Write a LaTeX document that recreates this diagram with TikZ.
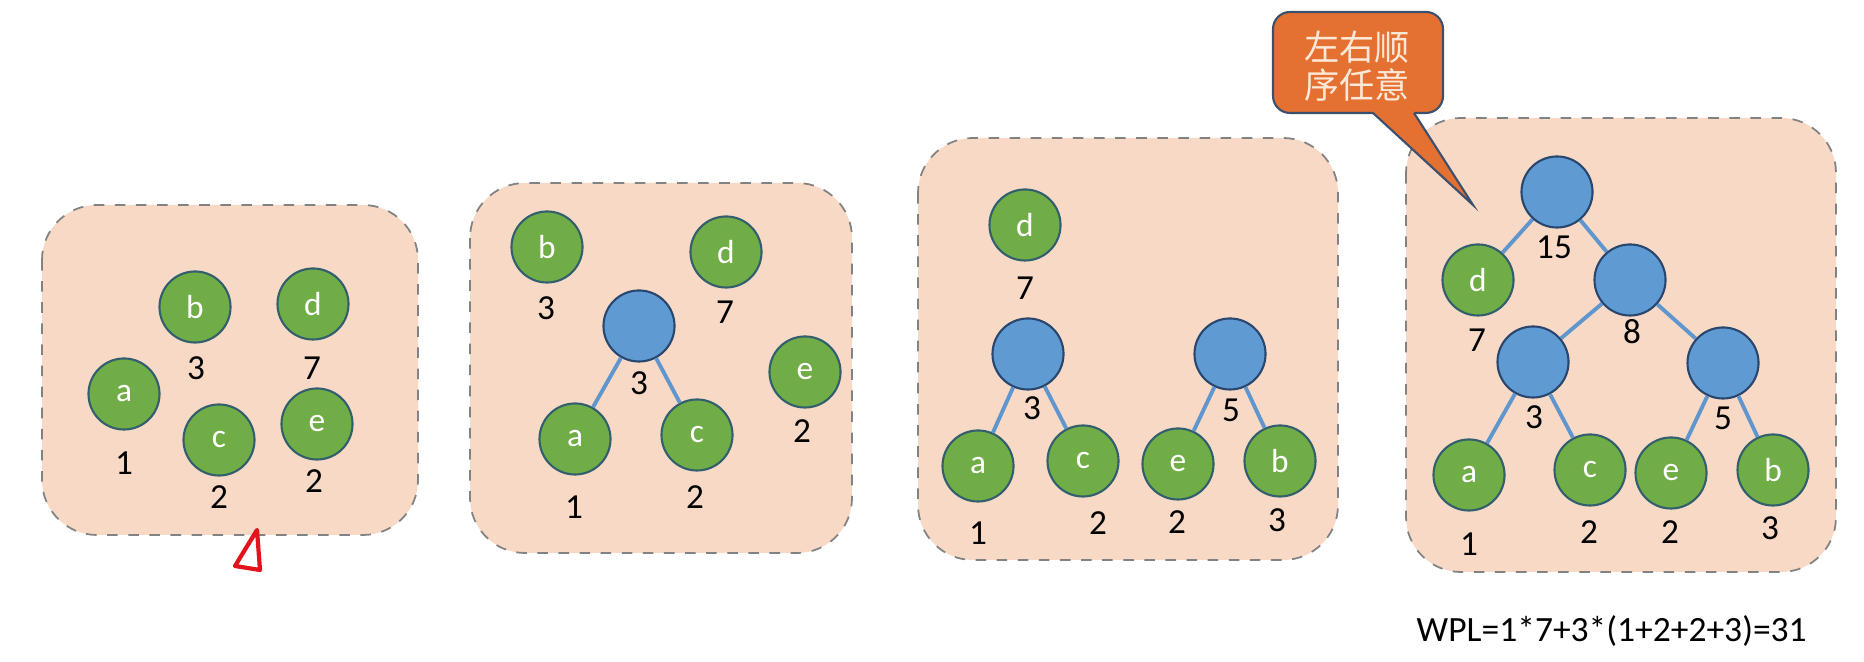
\documentclass[tikz,border=0pt]{standalone}
\usepackage{fontspec}
\setmainfont{Carlito}
\newfontfamily\cjk{Noto Sans CJK SC}
\definecolor{panelfill}{RGB}{248,217,198}
\definecolor{panelline}{RGB}{130,130,130}
\definecolor{leaffill}{RGB}{112,173,71}
\definecolor{leafline}{RGB}{50,95,110}
\definecolor{innerfill}{RGB}{95,155,210}
\definecolor{innerline}{RGB}{40,70,110}
\definecolor{edgecol}{RGB}{95,150,205}
\definecolor{calloutfill}{RGB}{228,112,50}
\definecolor{calloutline}{RGB}{60,80,110}
\definecolor{callouttext}{RGB}{252,232,214}
\definecolor{markred}{RGB}{225,20,30}
\tikzset{
  panel/.style={fill=panelfill, draw=panelline, dashed, line width=0.5pt, rounded corners=0.55cm},
  leaf/.style={circle, fill=leaffill, draw=leafline, line width=0.6pt, minimum size=0.71cm, inner sep=0pt, text=white, font=\fontsize{9.5}{11}\selectfont},
  inner/.style={circle, fill=innerfill, draw=innerline, line width=0.6pt, minimum size=0.71cm, inner sep=0pt},
  wt/.style={inner sep=0pt, font=\fontsize{10}{11}\selectfont},
  edge/.style={draw=edgecol, line width=1.1pt},
}
\begin{document}
\begin{tikzpicture}[x=0.01cm,y=-0.01cm]
\useasboundingbox (0,0) rectangle (1864,662);
% panels
\draw[panel] (42,205) rectangle (418,535);
\draw[panel] (470,183) rectangle (852,553);
\draw[panel] (918,138) rectangle (1338,560);
\draw[panel] (1406,118) rectangle (1836,572);

% ---------- panel 1 ----------
\node[leaf] (p1b) at (195,307) {b};
\node[leaf] (p1d) at (313,304) {d};
\node[leaf] (p1a) at (124,394) {a};
\node[leaf] (p1c) at (219,440) {c};
\node[leaf] (p1e) at (317,424) {e};
\node[wt] (p1wb) at (196,368) {3};
\node[wt] (p1wd) at (312,368) {7};
\node[wt] (p1wa) at (124,463) {1};
\node[wt] (p1wc) at (219,497) {2};
\node[wt] (p1we) at (314,481) {2};
\draw[markred, line width=1.2pt, line join=round] (257,530) -- (235,566) -- (260,570) -- cycle;

% ---------- panel 2 ----------
\node[leaf] (p2b) at (547,247) {b};
\node[leaf] (p2d) at (726,252) {d};
\node[inner] (p2n3) at (639,326) {};
\node[leaf] (p2e) at (805,372) {e};
\node[leaf] (p2a) at (575,439) {a};
\node[leaf] (p2c) at (697,435) {c};
\draw[edge] (p2n3) -- (p2a);
\draw[edge] (p2n3) -- (p2c);
\node[wt] (p2wb) at (546,308) {3};
\node[wt] (p2wd) at (725,312) {7};
\node[wt] (p2wn3) at (639,383) {3};
\node[wt] (p2we) at (802,431) {2};
\node[wt] (p2wa) at (574,507) {1};
\node[wt] (p2wc) at (695,497) {2};

% ---------- panel 3 ----------
\node[leaf] (p3d) at (1025,225) {d};
\node[inner] (p3n3) at (1028,354) {};
\node[inner] (p3n5) at (1230,354) {};
\node[leaf] (p3a) at (978,466) {a};
\node[leaf] (p3c) at (1083,461) {c};
\node[leaf] (p3e) at (1178,464) {e};
\node[leaf] (p3b) at (1280,461) {b};
\draw[edge] (p3n3) -- (p3a);
\draw[edge] (p3n3) -- (p3c);
\draw[edge] (p3n5) -- (p3e);
\draw[edge] (p3n5) -- (p3b);
\node[wt] (p3wd) at (1025,288) {7};
\node[wt] (p3wn3) at (1032,408) {3};
\node[wt] (p3wn5) at (1231,410) {5};
\node[wt] (p3wa) at (978,533) {1};
\node[wt] (p3wc) at (1098,523) {2};
\node[wt] (p3we) at (1177,522) {2};
\node[wt] (p3wb) at (1277,520) {3};

% ---------- panel 4 ----------
\node[inner] (p4r) at (1557,192) {};
\node[leaf] (p4d) at (1478,280) {d};
\node[inner] (p4n8) at (1630,280) {};
\node[inner] (p4n3) at (1533,362) {};
\node[inner] (p4n5) at (1723,363) {};
\node[leaf] (p4a) at (1469,475) {a};
\node[leaf] (p4c) at (1590,470) {c};
\node[leaf] (p4e) at (1671,473) {e};
\node[leaf] (p4b) at (1773,470) {b};
\draw[edge] (p4r) -- (p4d);
\draw[edge] (p4r) -- (p4n8);
\draw[edge] (p4n8) -- (p4n3);
\draw[edge] (p4n8) -- (p4n5);
\draw[edge] (p4n3) -- (p4a);
\draw[edge] (p4n3) -- (p4c);
\draw[edge] (p4n5) -- (p4e);
\draw[edge] (p4n5) -- (p4b);
\node[wt] (p4wr) at (1554,247) {15};
\node[wt] (p4wn8) at (1632,332) {8};
\node[wt] (p4wd) at (1477,340) {7};
\node[wt] (p4wn3) at (1534,417) {3};
\node[wt] (p4wn5) at (1723,418) {5};
\node[wt] (p4wa) at (1469,544) {1};
\node[wt] (p4wc) at (1589,532) {2};
\node[wt] (p4we) at (1670,532) {2};
\node[wt] (p4wb) at (1770,528) {3};

% ---------- callout ----------
\draw[fill=calloutfill, draw=calloutline, line width=0.6pt, rounded corners=0.17cm] (1273,12) rectangle (1443,113);
\coordinate (tip) at (1473,205);
\fill[calloutfill] (1373,108) -- (1373,113) -- (tip) -- (1414,113) -- (1414,108) -- cycle;
\draw[calloutline, line width=0.6pt, line join=miter] (1373,113) -- (tip) -- (1414,113);
\node[align=center, text=callouttext, font=\cjk\fontsize{10}{10.9}\selectfont, inner sep=0pt] (callout) at (1357,66) {左右顺\\序任意};

% ---------- formula ----------
\node[inner sep=0pt, anchor=base west, font=\fontsize{10.1}{11}\selectfont] (wpl) at (1416,642) {WPL=1*7+3*(1+2+2+3)=31};
\end{tikzpicture}
\end{document}
